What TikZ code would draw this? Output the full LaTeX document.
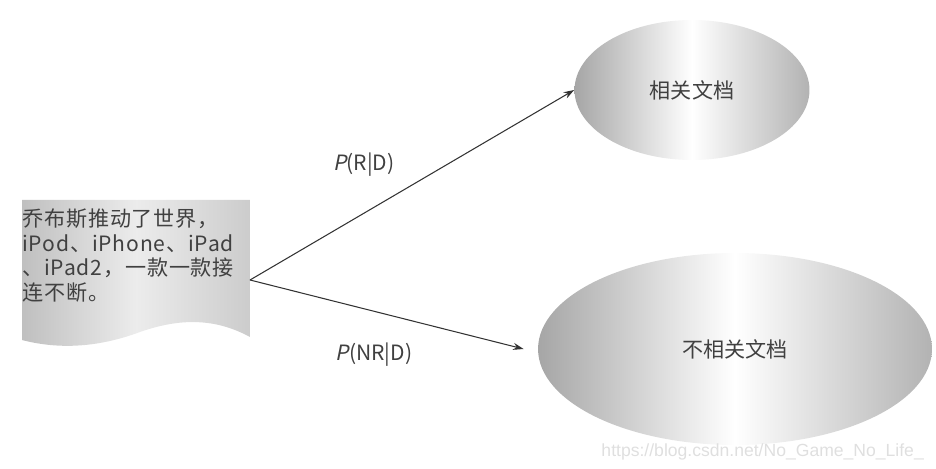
\documentclass[tikz,border=0pt]{standalone}
\usepackage{fontspec}
\setmainfont{Noto Sans CJK SC}
\newfontfamily\slanted[FakeSlant=0.2]{Noto Sans CJK SC}
\newfontfamily\markfont{Liberation Sans}
\usetikzlibrary{shapes.geometric,arrows.meta}

\begin{document}
\begin{tikzpicture}[x=0.02cm,y=-0.02cm,
    font=\fontsize{12}{14.2}\selectfont,
    blob/.style={ellipse, inner sep=0pt, text=black!75,
        left color=gray!70, right color=gray!60, middle color=white},
    link/.style={-{Stealth[length=6pt,width=4pt]}, draw=black!80, line width=0.6pt},
    prob/.style={text=black!75}]
    \useasboundingbox (0,0) rectangle (936,469);
    \def\docpath{(22,200) -- (250,200) -- (250,337)
        .. controls (215,318) and (180,318) .. (140,332)
        .. controls (100,347) and (60,350) .. (22,340) -- cycle}
    % document on the left
    \shade[left color=gray!50, right color=gray!40, middle color=gray!15] \docpath;
    \node[align=left, anchor=north west, inner sep=0pt, text=black!75,
        font=\fontsize{12}{14.2}\selectfont\addfontfeature{LetterSpace=4}] (doc) at (22,208)
        {乔布斯推动了世界，\\iPod、iPhone、iPad\\、iPad2，一款一款接\\连不断。};
    \coordinate (docout) at (250,280);
    % the two classes
    \node[blob, minimum width=4.7cm, minimum height=2.8cm] (rel) at (692,90) {相关文档};
    \node[blob, minimum width=7.88cm, minimum height=3.84cm] (irr) at (735,349) {不相关文档};
    \draw[link] (docout) -- (rel.west);
    \draw[link] (docout) -- ([xshift=-8]irr.west);
    \node[prob] (prel) at (364,165) {{\slanted P}(R|D)};
    \node[prob] (pirr) at (374,355) {{\slanted P}(NR|D)};
    \node[text=gray!25, font=\markfont\fontsize{10}{12}\selectfont, anchor=east] (mark) at (930,452)
        {https://blog.csdn.net/No\_Game\_No\_Life\_};
\end{tikzpicture}
\end{document}
